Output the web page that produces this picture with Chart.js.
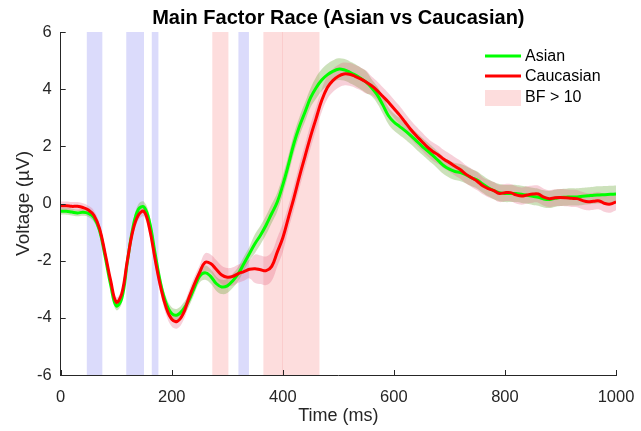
<!DOCTYPE html>
<html>
<head>
<meta charset="utf-8">
<script src="https://cdn.jsdelivr.net/npm/chart.js@4.4.1/dist/chart.umd.min.js"></script>
<style>
  html,body{margin:0;padding:0;background:#fff;}
  #wrap{width:641px;height:431px;position:relative;}
</style>
</head>
<body>
<div id="wrap"><canvas id="erpChart" width="641" height="431"></canvas></div>
<script>
// sample times (ms), one every 10 ms
const times = Array.from({length: 101}, (_, i) => i * 10);

const asian = [
  -0.27,-0.27,-0.30,-0.33,-0.31,-0.35,-0.50,-0.95,-1.85,-2.85,
  -3.58,-3.32,-2.05,-0.85,-0.20,-0.12,-0.65,-1.75,-2.80,-3.50,
  -3.85,-3.90,-3.72,-3.42,-2.98,-2.55,-2.42,-2.55,-2.80,-2.92,
  -2.88,-2.70,-2.45,-2.10,-1.75,-1.40,-1.10,-0.75,-0.35,0.05,
  0.65,1.35,2.10,2.70,3.20,3.70,4.05,4.32,4.50,4.62,
  4.70,4.68,4.60,4.50,4.38,4.25,4.05,3.80,3.45,3.08,
  2.85,2.70,2.55,2.38,2.20,2.02,1.85,1.68,1.50,1.32,
  1.20,1.12,1.08,1.00,0.90,0.82,0.68,0.55,0.45,0.38,
  0.35,0.35,0.35,0.32,0.29,0.25,0.22,0.16,0.14,0.18,
  0.21,0.22,0.23,0.23,0.25,0.27,0.29,0.30,0.31,0.32,0.33
];
const caucasian = [
  -0.08,-0.08,-0.10,-0.10,-0.14,-0.23,-0.42,-0.88,-1.75,-2.70,
  -3.45,-3.15,-2.00,-0.95,-0.40,-0.28,-0.88,-1.95,-2.92,-3.65,
  -4.05,-4.12,-3.88,-3.35,-2.85,-2.42,-2.06,-2.10,-2.30,-2.50,
  -2.58,-2.55,-2.45,-2.38,-2.30,-2.28,-2.32,-2.35,-2.20,-1.70,
  -1.20,-0.50,0.20,0.95,1.65,2.35,2.98,3.60,4.05,4.30,
  4.45,4.53,4.52,4.45,4.36,4.25,4.12,3.95,3.75,3.55,
  3.32,3.10,2.85,2.60,2.38,2.18,1.98,1.82,1.70,1.55,
  1.43,1.30,1.18,1.02,0.90,0.78,0.62,0.52,0.45,0.35,
  0.38,0.38,0.30,0.26,0.30,0.33,0.33,0.22,0.17,0.20,
  0.21,0.20,0.18,0.17,0.10,0.06,0.08,0.09,0.00,-0.02,0.06
];
// standard error for the shaded bands
const asianSE = [
  0.12,0.12,0.12,0.12,0.12,0.12,0.15,0.15,0.15,0.15,
  0.15,0.18,0.18,0.18,0.18,0.18,0.22,0.22,0.22,0.22,
  0.22,0.22,0.22,0.22,0.22,0.22,0.25,0.25,0.25,0.25,
  0.25,0.25,0.25,0.25,0.25,0.33,0.33,0.33,0.33,0.33,
  0.33,0.33,0.33,0.33,0.33,0.33,0.38,0.38,0.38,0.38,
  0.38,0.38,0.38,0.38,0.38,0.38,0.30,0.30,0.30,0.30,
  0.30,0.30,0.30,0.30,0.30,0.30,0.30,0.30,0.30,0.30,
  0.30,0.30,0.30,0.30,0.30,0.30,0.30,0.30,0.30,0.30,
  0.30,0.30,0.30,0.30,0.30,0.30,0.30,0.30,0.30,0.30,
  0.30,0.30,0.30,0.30,0.30,0.30,0.30,0.30,0.30,0.30,0.30
];
const caucasianSE = [
  0.15,0.15,0.15,0.15,0.15,0.15,0.17,0.17,0.17,0.17,
  0.17,0.18,0.18,0.18,0.18,0.18,0.25,0.25,0.25,0.25,
  0.25,0.25,0.25,0.25,0.25,0.25,0.32,0.32,0.32,0.32,
  0.32,0.32,0.32,0.32,0.32,0.50,0.50,0.50,0.50,0.50,
  0.50,0.42,0.42,0.42,0.42,0.42,0.40,0.40,0.40,0.40,
  0.40,0.40,0.40,0.40,0.40,0.40,0.32,0.32,0.32,0.32,
  0.32,0.32,0.32,0.32,0.32,0.32,0.32,0.32,0.32,0.32,
  0.32,0.32,0.32,0.32,0.32,0.32,0.30,0.30,0.30,0.30,
  0.30,0.30,0.30,0.30,0.30,0.30,0.30,0.30,0.30,0.30,
  0.30,0.30,0.30,0.30,0.30,0.30,0.30,0.30,0.30,0.30,0.30
];

// Bayes factor windows (ms)
const bfHighStart = [273, 365, 399];
const bfHighEnd   = [302, 400, 466];
const bfLowStart  = [47, 118, 164, 320];
const bfLowEnd    = [75, 150, 176, 339];

const xTicks = [0, 200, 400, 600, 800, 1000];
const yTicks = [-6, -4, -2, 0, 2, 4, 6];

const GREEN = 'rgb(0,255,0)', RED = 'rgb(255,0,0)';
const PINK = 'rgba(240,30,30,0.15)', BLUE = 'rgba(0,0,230,0.14)';
const AXIS = '#262626';

const pts = (vals, se, sign) => times.map((t, i) => ({x: t, y: vals[i] + sign * (se ? se[i] : 0)}));

// draws the BF windows behind the data, plus inward ticks, title and legend
const decor = {
  id: 'decor',
  beforeDatasetsDraw(chart) {
    const {ctx, chartArea: a, scales: {x}} = chart;
    ctx.save();
    const band = (s, e, c) => {
      const x0 = x.getPixelForValue(s), x1 = x.getPixelForValue(e);
      ctx.fillStyle = c;
      ctx.fillRect(x0, a.top, x1 - x0, a.bottom - a.top);
    };
    bfLowStart.forEach((s, i) => band(s, bfLowEnd[i], BLUE));
    bfHighStart.forEach((s, i) => band(s, bfHighEnd[i], PINK));
    ctx.restore();
  },
  afterDraw(chart) {
    const {ctx, chartArea: a, scales: {x, y}} = chart;
    ctx.save();
    ctx.strokeStyle = AXIS; ctx.lineWidth = 1;
    ctx.beginPath();
    xTicks.forEach(t => { const px = Math.round(x.getPixelForValue(t)) + 0.5; ctx.moveTo(px, a.bottom); ctx.lineTo(px, a.bottom - 5); });
    yTicks.forEach(t => { const py = Math.round(y.getPixelForValue(t)) + 0.5; ctx.moveTo(a.left, py); ctx.lineTo(a.left + 5, py); });
    ctx.stroke();

    // title
    ctx.fillStyle = '#000';
    ctx.font = "bold 20px 'Liberation Sans', Arial, sans-serif";
    ctx.textAlign = 'center'; ctx.textBaseline = 'middle';
    ctx.fillText('Main Factor Race (Asian vs Caucasian)', (a.left + a.right) / 2, 18);

    // legend
    const lx = 485, lw = 36;
    ctx.font = "16px 'Liberation Sans', Arial, sans-serif";
    ctx.textAlign = 'left';
    ctx.lineWidth = 3;
    [['Asian', GREEN, 56], ['Caucasian', RED, 76]].forEach(([txt, c, ly]) => {
      ctx.strokeStyle = c;
      ctx.beginPath(); ctx.moveTo(lx, ly); ctx.lineTo(lx + lw, ly); ctx.stroke();
      ctx.fillStyle = '#000'; ctx.fillText(txt, lx + lw + 4, ly + 1);
    });
    ctx.fillStyle = PINK; ctx.fillRect(lx, 90, lw, 16);
    ctx.fillStyle = '#000'; ctx.fillText('BF > 10', lx + lw + 4, 98);
    ctx.restore();
  }
};

const ctx = document.getElementById('erpChart').getContext('2d');
new Chart(ctx, {
  type: 'line',
  data: {
    datasets: [
      {data: pts(asian, asianSE, -1), borderWidth: 0, pointRadius: 0, fill: false, order: 6},
      {data: pts(asian, asianSE, 1), borderWidth: 0, pointRadius: 0, fill: '-1', backgroundColor: 'rgba(110,170,60,0.35)', order: 5},
      {data: pts(caucasian, caucasianSE, -1), borderWidth: 0, pointRadius: 0, fill: false, order: 4},
      {data: pts(caucasian, caucasianSE, 1), borderWidth: 0, pointRadius: 0, fill: '-1', backgroundColor: 'rgba(230,100,130,0.3)', order: 3},
      {label: 'Asian', data: pts(asian, null, 0), borderColor: GREEN, borderWidth: 3, pointRadius: 0, fill: false, order: 2},
      {label: 'Caucasian', data: pts(caucasian, null, 0), borderColor: RED, borderWidth: 3, pointRadius: 0, fill: false, order: 1}
    ]
  },
  options: {
    responsive: false, animation: false,
    layout: {padding: {top: 32, right: 25, left: 0, bottom: 0}},
    elements: {line: {tension: 0.4}},
    plugins: {legend: {display: false}, title: {display: false}, tooltip: {enabled: false}},
    scales: {
      x: {
        type: 'linear', min: 0, max: 1000,
        afterBuildTicks: s => { s.ticks = xTicks.map(v => ({value: v})); },
        afterFit: s => { s.height = 56; },
        grid: {display: false},
        border: {display: true, color: AXIS, width: 1},
        ticks: {color: AXIS, font: {family: "'Liberation Sans', Arial", size: 16.5}, padding: 5, maxRotation: 0, callback: v => String(v)},
        title: {display: true, text: 'Time (ms)', color: AXIS, font: {family: "'Liberation Sans', Arial", size: 18}, padding: {top: 0, bottom: 4}}
      },
      y: {
        min: -6, max: 6,
        afterBuildTicks: s => { s.ticks = yTicks.map(v => ({value: v})); },
        afterFit: s => { s.width = 60.7; },
        grid: {display: false},
        border: {display: true, color: AXIS, width: 1},
        ticks: {color: AXIS, font: {family: "'Liberation Sans', Arial", size: 16.5}, padding: 1, callback: v => String(v)},
        title: {display: true, text: 'Voltage (µV)', color: AXIS, font: {family: "'Liberation Sans', Arial", size: 19}, padding: {top: 12, bottom: 0}}
      }
    }
  },
  plugins: [decor]
});
</script>
</body>
</html>
